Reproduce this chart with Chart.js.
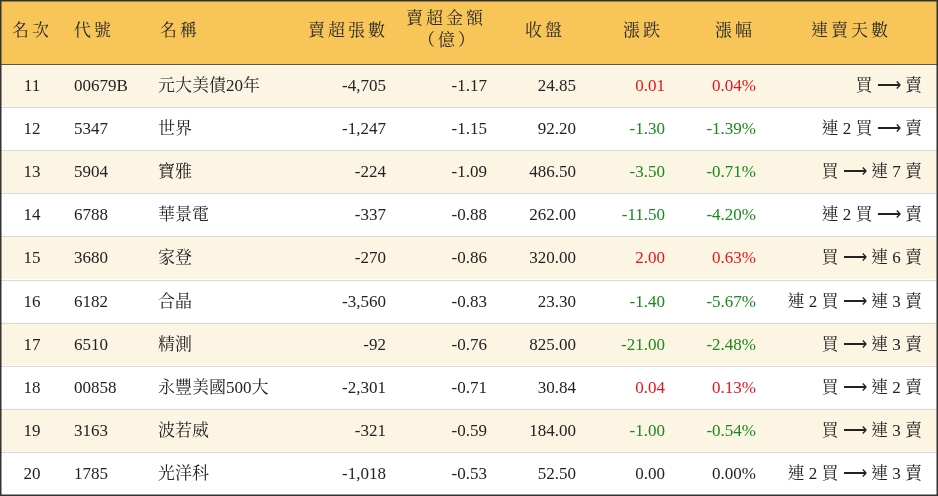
<!DOCTYPE html>
<html><head><meta charset="utf-8">
<script src="https://cdn.jsdelivr.net/npm/chart.js@4"></script>
<style>html,body{margin:0;padding:0;background:#fff}#w{width:938px;height:496px}</style>
</head><body><div id="w"><canvas id="c"></canvas></div>
<script>
const headers=["名次","代號","名稱","賣超張數","賣超金額\n（億）","收盤","漲跌","漲幅","連賣天數"];
const ranks=["11","12","13","14","15","16","17","18","19","20"];
const codes=["00679B","5347","5904","6788","3680","6182","6510","00858","3163","1785"];
const names=["元大美債20年","世界","寶雅","華景電","家登","合晶","精測","永豐美國500大","波若威","光洋科"];
const lots=[-4705,-1247,-224,-337,-270,-3560,-92,-2301,-321,-1018];
const amounts=[-1.17,-1.15,-1.09,-0.88,-0.86,-0.83,-0.76,-0.71,-0.59,-0.53];
const closes=[24.85,92.20,486.50,262.00,320.00,23.30,825.00,30.84,184.00,52.50];
const changes=[0.01,-1.30,-3.50,-11.50,2.00,-1.40,-21.00,0.04,-1.00,0.00];
const pcts=[0.04,-1.39,-0.71,-4.20,0.63,-5.67,-2.48,0.13,-0.54,0.00];
const streaks=["買 ⟶ 賣","連 2 買 ⟶ 賣","買 ⟶ 連 7 賣","連 2 買 ⟶ 賣","買 ⟶ 連 6 賣","連 2 買 ⟶ 連 3 賣","買 ⟶ 連 3 賣","買 ⟶ 連 2 賣","買 ⟶ 連 3 賣","連 2 買 ⟶ 連 3 賣"];

const cols=[[32,'center'],[74,'left'],[158,'left'],[386,'right'],[487,'right'],[576,'right'],[665,'right'],[756,'right'],[922,'right']];
const headPos=[[32,'center'],[94,'center'],[180,'center'],[348,'center'],[446,'center'],[545,'center'],[643,'center'],[735,'center'],[851,'center']];
const FONT='"Liberation Serif","Noto Serif CJK TC","Noto Sans CJK TC",serif';
const fmtInt=v=>v.toLocaleString('en-US');
const col=v=>v>0?'#e8141c':(v<0?'#18891c':'#222');

const tablePlugin={id:'tbl',afterDraw(ch){
  const c=ch.ctx,y=ch.scales.y,a=ch.chartArea;
  c.save();
  c.fillStyle='#f8c559';c.fillRect(0,0,938,a.top);
  c.fillStyle='#2a2a2a';c.textBaseline='middle';
  c.letterSpacing='3px';
  headers.forEach((h,i)=>{
    c.textAlign=headPos[i][1];c.font='17px '+FONT;
    const L=h.split('\n');
    if(L.length==1)c.fillText(h,headPos[i][0],a.top/2);
    else{c.fillText(L[0],headPos[i][0],20);c.fillText(L[1],headPos[i][0]+2,42);}
  });
  c.letterSpacing='0px';
  c.strokeStyle='#d9d9d9';c.lineWidth=1;
  for(let i=0;i<ranks.length-1;i++){
    const yy=Math.round(y.getPixelForValue(i)+y.height/ranks.length/2)+0.5;
    c.beginPath();c.moveTo(0,yy);c.lineTo(938,yy);c.stroke();
  }
  c.strokeStyle='#555';c.beginPath();c.moveTo(0,a.top+0.5);c.lineTo(938,a.top+0.5);c.stroke();
  c.font='17px '+FONT;
  ranks.forEach((r,i)=>{
    const yy=y.getPixelForValue(i)+1;
    const vals=[[r,'#222'],[codes[i],'#222'],[names[i],'#222'],[fmtInt(lots[i]),'#222'],[amounts[i].toFixed(2),'#222'],[closes[i].toFixed(2),'#222'],[changes[i].toFixed(2),col(changes[i])],[pcts[i].toFixed(2)+'%',col(pcts[i])],[streaks[i],'#222']];
    vals.forEach((v,j)=>{c.textAlign=cols[j][1];c.fillStyle=v[1];c.fillText(v[0],cols[j][0],yy);});
  });
  c.strokeStyle='#333';c.lineWidth=1.5;c.strokeRect(0.75,0.75,936.5,494.5);
  c.restore();
}};

new Chart(document.getElementById('c'),{
  type:'bar',
  data:{labels:ranks,datasets:[{data:ranks.map(()=>[0,1]),backgroundColor:ranks.map((_,i)=>i%2==0?'#fdf5e4':'#ffffff'),barPercentage:1,categoryPercentage:1,borderWidth:0}]},
  options:{indexAxis:'y',responsive:true,maintainAspectRatio:false,animation:false,
    layout:{padding:{top:64,bottom:1,left:0,right:0}},
    plugins:{legend:{display:false},tooltip:{enabled:false}},
    scales:{x:{display:false,min:0,max:1},y:{display:false}}},
  plugins:[tablePlugin]
});
</script></body></html>
